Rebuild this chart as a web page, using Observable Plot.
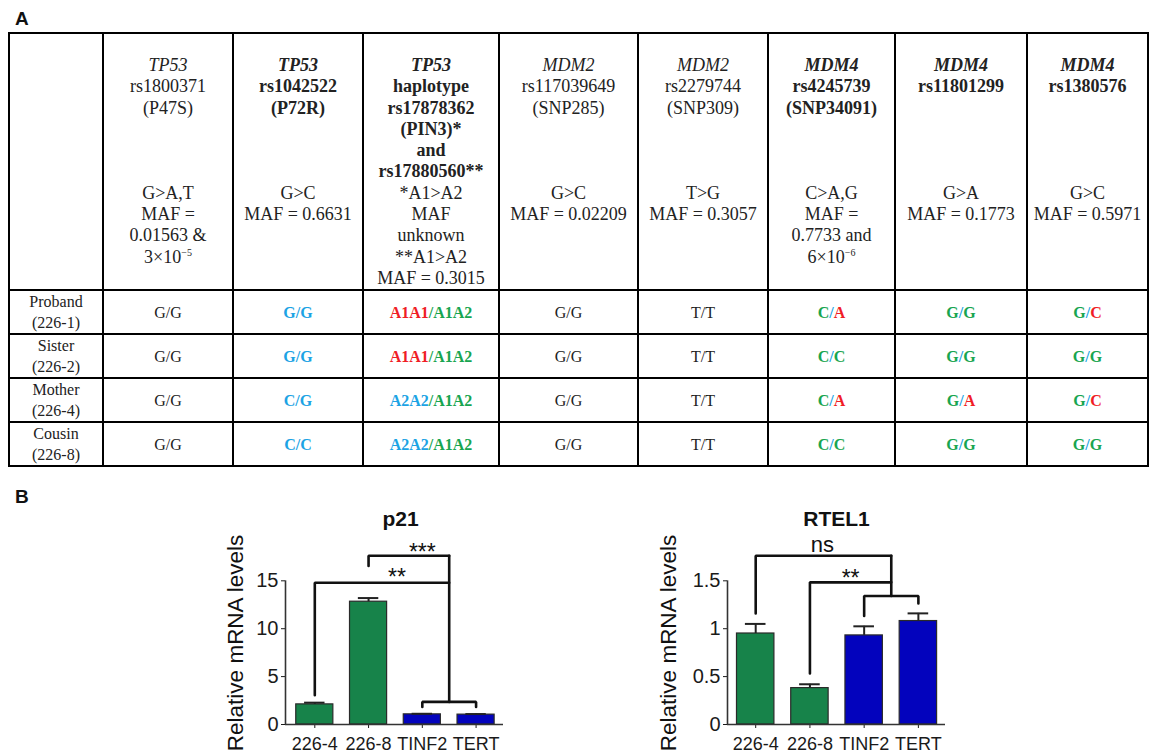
<!DOCTYPE html>
<html><head><meta charset="utf-8">
<script src="https://cdn.jsdelivr.net/npm/d3@7"></script>
<script src="https://cdn.jsdelivr.net/npm/@observablehq/plot@0.6"></script>
<style>
html,body{margin:0;padding:0;background:#fff;}
#page{position:relative;width:1149px;height:754px;overflow:hidden;background:#fff;}
.panel{position:absolute;font-family:"Liberation Sans",Arial,sans-serif;font-weight:bold;font-size:19px;line-height:19px;color:#111;}
#tbl{position:absolute;left:8px;top:32px;width:1139px;border-collapse:collapse;table-layout:fixed;font-family:"Liberation Serif","Times New Roman",serif;color:#222;}
#tbl td{border:2px solid #000;text-align:center;padding:0;overflow:hidden;white-space:nowrap;}
#tbl tr.head{height:255px;}
#tbl tr.head td{vertical-align:top;font-size:18px;line-height:21.3px;padding-top:21px;}
#tbl tr.data{height:43px;}
#tbl tr.data td{vertical-align:middle;font-size:16px;line-height:21px;}
#tbl sup{font-size:10px;line-height:0;vertical-align:7px;}
.chart{position:absolute;top:495px;}
.chart svg{overflow:visible;}
</style></head>
<body><div id="page">
<div class="panel" style="left:15px;top:9px;">A</div>
<table id="tbl"></table>
<div class="panel" style="left:15px;top:487px;">B</div>
<div class="chart" id="p21" style="left:180px;"></div>
<div class="chart" id="rtel1" style="left:620px;"></div>
</div>
<script>
// ---------- Panel A data ----------
const genes = ["TP53","TP53","TP53","MDM2","MDM2","MDM4","MDM4","MDM4"];
const geneBold = [false,true,true,false,false,true,true,true];
const snpIds = [
  ["rs1800371","(P47S)"],
  ["rs1042522","(P72R)"],
  ["haplotype","rs17878362","(PIN3)*","and","rs17880560**"],
  ["rs117039649","(SNP285)"],
  ["rs2279744","(SNP309)"],
  ["rs4245739","(SNP34091)"],
  ["rs11801299"],
  ["rs1380576"]
];
const snpVariants = [
  ["G>A,T","MAF =","0.01563 &","3×10^−5"],
  ["G>C","MAF = 0.6631"],
  ["*A1>A2","MAF","unknown","**A1>A2","MAF = 0.3015"],
  ["G>C","MAF = 0.02209"],
  ["T>G","MAF = 0.3057"],
  ["C>A,G","MAF =","0.7733 and","6×10^−6"],
  ["G>A","MAF = 0.1773"],
  ["G>C","MAF = 0.5971"]
];
const subjects = ["Proband","Sister","Mother","Cousin"];
const subjectIds = ["226-1","226-2","226-4","226-8"];
// allele class codes: plain, or b / r / g coloured allele classes
const genotypes = [
  ["G/G","b:G/G","r:A1A1 g:/A1A2","G/G","T/T","g:C b:/ r:A","g:G b:/ g:G","g:G b:/ r:C"],
  ["G/G","b:G/G","r:A1A1 g:/A1A2","G/G","T/T","g:C b:/ g:C","g:G b:/ g:G","g:G b:/ g:G"],
  ["G/G","b:C/G","b:A2A2 g:/A1A2","G/G","T/T","g:C b:/ r:A","g:G b:/ r:A","g:G b:/ r:C"],
  ["G/G","b:C/C","b:A2A2 g:/A1A2","G/G","T/T","g:C b:/ g:C","g:G b:/ g:G","g:G b:/ g:G"]
];

// ---------- Panel B data ----------
const groups = ["226-4","226-8","TINF2","TERT"];
const groupType = ["patient","patient","control","control"];
const p21Values = [2.1, 12.82, 1.06, 1.03];
const p21Errors = [0.18, 0.38, 0.06, 0.06];
const rtel1Values = [0.95, 0.38, 0.93, 1.08];
const rtel1Errors = [0.10, 0.04, 0.095, 0.08];
const p21Brackets = [
  {a:"TINF2", b:"TERT", footA:1.84, top:2.36, footB:1.84},
  {a:"TINF2+TERT", b:"TINF2+TERT", footA:2.36, top:17.62, footB:17.62},
  {a:"226-4", b:"TINF2+TERT", footA:3.06, top:14.8, footB:14.8},
  {a:"226-8", b:"TINF2+TERT", footA:16.54, top:17.62, footB:17.62}
];
const p21Labels = [{text:"**", x:1.53, y:15.9}, {text:"***", x:2.0, y:18.56}];
const rtel1Brackets = [
  {a:"TINF2", b:"TERT", footA:1.132, top:1.341, footB:1.264},
  {a:"TINF2+TERT", b:"TINF2+TERT", footA:1.341, top:1.762, footB:1.762},
  {a:"226-4", b:"TINF2+TERT", footA:1.16, top:1.762, footB:1.762},
  {a:"226-8", b:"TINF2+TERT", footA:0.533, top:1.484, footB:1.484}
];
const rtel1Labels = [{text:"ns", x:1.23, y:1.874}, {text:"**", x:1.75, y:1.588}];

// ---------- Panel A table ----------
const colWidths = [94,130,130,136,139,130,127,132,121];
const gtColors = {b:"#1ca3e4", r:"#f01d25", g:"#18a550"};
const esc = s => s.replace(/&/g,"&amp;").replace(/</g,"&lt;").replace(/>/g,"&gt;");
const fmt = s => esc(s).replace(/\^(\S+)/, "<sup>$1</sup>");
function cell(str){
  return str.split(" ").map(seg => {
    const m = seg.match(/^([brg]):(.*)$/);
    if (!m) return esc(seg);
    return `<b style="color:${gtColors[m[1]]}">${esc(m[2])}</b>`;
  }).join("");
}
let html = "<colgroup>" + colWidths.map(w => `<col style="width:${w}px">`).join("") + "</colgroup>";
html += '<tr class="head"><td></td>' + genes.map((g,i) => {
  const top = [`<i>${g}</i>`, ...snpIds[i].map(fmt)];
  const styled = top.map(l => geneBold[i] ? `<b>${l}</b>` : l);
  while (styled.length < 6) styled.push("&nbsp;");
  const lines = [...styled, ...snpVariants[i].map(fmt)];
  return `<td>${lines.join("<br>")}</td>`;
}).join("") + "</tr>";
subjects.forEach((s,r) => {
  html += `<tr class="data"><td>${s}<br>(${subjectIds[r]})</td>` +
    genotypes[r].map(c => `<td>${cell(c)}</td>`).join("") + "</tr>";
});
document.getElementById("tbl").innerHTML = html;

// ---------- Panel B charts ----------
const pos = name => d3.mean(name.split("+"), n => groups.indexOf(n));
const bracketPoints = brs => brs.flatMap((b,k) => [
  {id:k, x:pos(b.a), y:b.footA}, {id:k, x:pos(b.a), y:b.top},
  {id:k, x:pos(b.b), y:b.top}, {id:k, x:pos(b.b), y:b.footB}
]);

function chart({title, values, errors, brackets, labels, yDomain, yTop, xDomain, mL, mR, yLabDx, titleDx}) {
  const data = groups.map((g,i) => ({g, i, type: groupType[i], v: values[i], e: errors[i]}));
  const svg = Plot.plot({
    width: 340, height: 259,
    marginLeft: mL, marginRight: mR, marginTop: 47, marginBottom: 30,
    x: {domain: xDomain, ticks: 4, tickFormat: i => groups[Math.round(i)] ?? "", tickSize: 4, tickPadding: 9, label: null},
    y: {domain: yDomain, ticks: 4, tickSize: 4, tickPadding: 3, tickFormat: d => String(d), label: null},
    color: {domain: ["patient","control"], range: ["#17834a","#0303bd"]},
    style: {fontFamily: '"Liberation Sans", Arial, sans-serif', fontSize: "20px", color: "#1a1a1a", background: "transparent"},
    marks: [
      Plot.rect(data, {x1: d => d.i - 0.345, x2: d => d.i + 0.345, y1: 0, y2: "v", fill: "type", stroke: "#2a2a2a", strokeWidth: 1.2}),
      Plot.ruleX(data, {x: "i", y1: "v", y2: d => d.v + d.e, stroke: "#222", strokeWidth: 2}),
      Plot.ruleY(data, {y: d => d.v + d.e, x1: d => d.i - 0.19, x2: d => d.i + 0.19, stroke: "#222", strokeWidth: 2}),
      Plot.ruleY([0], {stroke: "#333", strokeWidth: 1.6}),
      Plot.ruleX([xDomain[0]], {y1: 0, y2: yTop, stroke: "#333", strokeWidth: 1.6}),
      Plot.line(bracketPoints(brackets), {x: "x", y: "y", z: "id", stroke: "#111", strokeWidth: 2.6, strokeLinejoin: "miter"}),
      Plot.text(labels, {x: "x", y: "y", text: "text", fontSize: d => d.text === "ns" ? 22 : 23,
        fontWeight: d => d.text === "ns" ? "normal" : "bold", lineAnchor: "middle", textAnchor: "middle", fill: "#111"}),
      Plot.text([title], {text: d => d, frameAnchor: "top", textAnchor: "middle", dx: titleDx, dy: -23, fontWeight: "bold", fontSize: 21, lineAnchor: "middle", fill: "#111"}),
      Plot.text(["Relative mRNA levels"], {text: d => d, frameAnchor: "left", textAnchor: "middle", rotate: -90, dx: yLabDx, dy: 9.5, fontSize: 22.5, lineAnchor: "middle", fill: "#111"})
    ]
  });
  // asterisk glyphs sit high in the em box; nudge them down toward their visual centre
  d3.select(svg).selectAll("text").filter(function(){ return /^\*+$/.test(this.textContent); })
    .attr("dy", "0.25em");
  d3.select(svg).selectAll('[aria-label^="x-axis"] text').style("font-size", "18px");
  return svg;
}

document.getElementById("p21").append(chart({
  title: "p21", values: p21Values, errors: p21Errors, brackets: p21Brackets, labels: p21Labels,
  yDomain: [0, 19], yTop: 15, xDomain: [-0.545, 3.51], mL: 105, mR: 17, yLabDx: -49.4, titleDx: 6
}));
document.getElementById("rtel1").append(chart({
  title: "RTEL1", values: rtel1Values, errors: rtel1Errors, brackets: rtel1Brackets, labels: rtel1Labels,
  yDomain: [0, 1.9], yTop: 1.5, xDomain: [-0.52, 3.5], mL: 107, mR: 15, yLabDx: -58.3, titleDx: 0
}));
</script>
</body></html>
